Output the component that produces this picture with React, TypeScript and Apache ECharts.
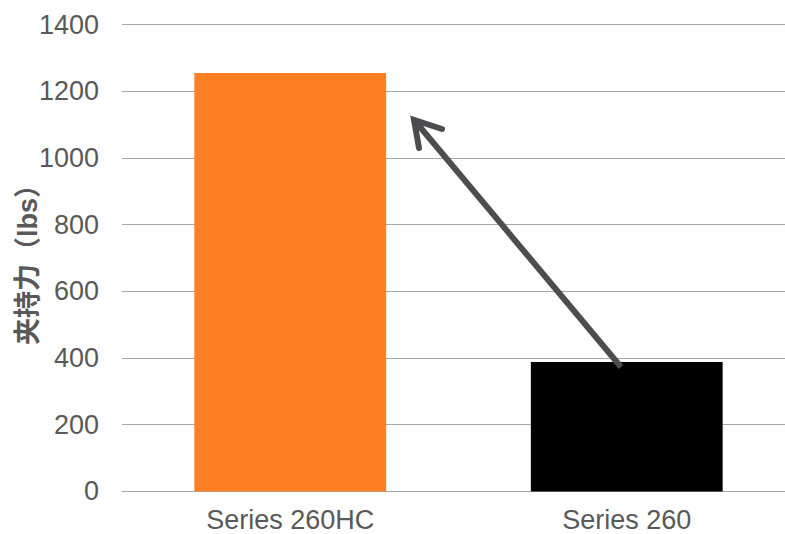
import React, { useEffect, useRef } from "react";
import * as echarts from "echarts";

const categories = ["Series 260HC", "Series 260"];
const clampForce = [1255, 388];
const barColors = ["#FD7E23", "#000000"];
const yTicks = { min: 0, max: 1400, interval: 200 };

const LABEL_FONT = '"Liberation Sans", Arial, sans-serif';
const ARROW_COLOR = "#4D4D4F";

export default function App() {
  const ref = useRef<HTMLDivElement>(null);

  useEffect(() => {
    if (!ref.current) return;
    const chart = echarts.init(ref.current, null, { renderer: "svg" });
    chart.setOption({
      animation: false,
      backgroundColor: "#FFFFFF",
      grid: {
        left: 122,
        right: -10,
        top: 24.7,
        bottom: 42.6,
        containLabel: false,
        outerBoundsMode: "none",
      },
      xAxis: {
        type: "category",
        data: categories,
        axisLine: { show: true, lineStyle: { color: "#A6A6A6", width: 1 } },
        axisTick: { show: false },
        axisLabel: {
          color: "#595959",
          fontSize: 27,
          lineHeight: 20,
          fontFamily: LABEL_FONT,
          margin: 19,
        },
      },
      yAxis: {
        type: "value",
        min: yTicks.min,
        max: yTicks.max,
        interval: yTicks.interval,
        name: "夹持力（lbs）",
        nameLocation: "middle",
        nameGap: 81,
        nameMoveOverlap: false,
        nameTextStyle: {
          color: "#595959",
          fontSize: 27,
          fontWeight: "bold",
          fontFamily: '"Liberation Sans", "Noto Sans CJK SC", sans-serif',
        },
        axisLine: { show: false },
        axisTick: { show: false },
        splitLine: { lineStyle: { color: "#A6A6A6", width: 1 } },
        axisLabel: {
          color: "#595959",
          fontSize: 27,
          fontFamily: LABEL_FONT,
          margin: 23,
          formatter: (v: number) => String(v),
        },
      },
      series: [
        {
          type: "bar",
          barWidth: "57%",
          data: clampForce.map((v, i) => ({
            value: v,
            itemStyle: { color: barColors[i] },
          })),
        },
      ],
      graphic: [
        {
          type: "line",
          shape: { x1: 621, y1: 367, x2: 415, y2: 121 },
          style: { stroke: ARROW_COLOR, lineWidth: 6, lineCap: "butt" },
          z: 100,
        },
        {
          type: "polyline",
          shape: {
            points: [
              [442, 129],
              [414, 120],
              [419, 148],
            ],
          },
          style: {
            stroke: ARROW_COLOR,
            fill: null,
            lineWidth: 6,
            lineCap: "round",
            lineJoin: "miter",
          },
          z: 100,
        },
      ],
    });
    return () => chart.dispose();
  }, []);

  return (
    <div
      ref={ref}
      style={{ position: "fixed", left: 0, top: 0, width: 785, height: 534 }}
    />
  );
}
